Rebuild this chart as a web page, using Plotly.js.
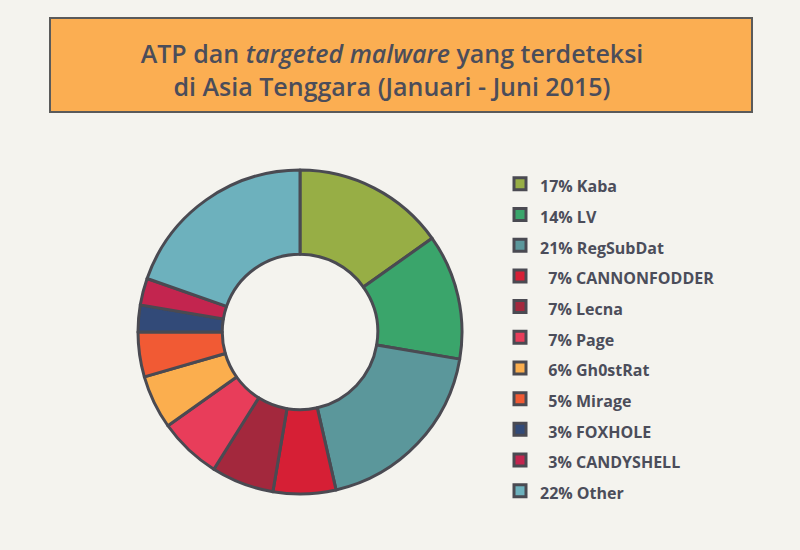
<!DOCTYPE html>
<html>
<head>
<meta charset="utf-8">
<script src="https://cdn.plot.ly/plotly-3.0.1.min.js"></script>
<style>html,body{margin:0;padding:0;background:#f4f3ee;}</style>
</head>
<body>
<div id="chart" style="width:800px;height:550px;"></div>
<script>
const names = ["Kaba","LV","RegSubDat","CANNONFODDER","Lecna","Page","Gh0stRat","Mirage","FOXHOLE","CANDYSHELL","Other"];
const values = [17,14,21,7,7,7,6,5,3,3,22];
const colors = ["#97ae45","#3aa56b","#5b979b","#d61f35","#a3283d","#e83d5a","#fbae4e","#f15a34","#324a78","#c3254f","#6db1bd"];

const legendLabels = names.map((n, i) => {
  const v = values[i];
  const pad = v < 10 ? "\u00A0\u00A0" : "";
  return '<span style="font-size:16px">' + pad + v + "% " + n + "</span>";
});

const trace = {
  type: "pie",
  labels: legendLabels,
  values: values,
  sort: false,
  direction: "clockwise",
  rotation: 0,
  hole: 0.48,
  textinfo: "none",
  hoverinfo: "skip",
  marker: {colors: colors, line: {color: "#4a4a52", width: 3}},
  domain: {x: [0.1725, 0.5775], y: [0.1018, 0.6909]}
};

const layout = {
  width: 800, height: 550,
  paper_bgcolor: "#f4f3ee",
  plot_bgcolor: "#f4f3ee",
  margin: {l: 0, r: 0, t: 0, b: 0},
  font: {family: "Open Sans, sans-serif", color: "#4b4d5a"},
  title: {
    text: "ATP dan <i>targeted malware</i> yang terdeteksi<br>di Asia Tenggara (Januari - Juni 2015)",
    x: 0.49, xanchor: "center", xref: "paper",
    y: 1 - 63/550, yanchor: "middle", yref: "paper",
    font: {family: "Open Sans, sans-serif", size: 25, color: "#4b4d5a", weight: 600}
  },
  shapes: [{
    type: "rect", xref: "paper", yref: "paper",
    x0: 50/800, x1: 752/800, y0: 1 - 112/550, y1: 1 - 18/550,
    fillcolor: "#fbae52", line: {color: "#5a5a5a", width: 2}, layer: "below"
  }],
  showlegend: true,
  legend: {
    x: 500/800, xanchor: "left",
    y: 1 - 163.5/550, yanchor: "top",
    font: {family: "Open Sans, sans-serif", size: 21.3, color: "#4b4d5a", weight: 700},
    bgcolor: "rgba(0,0,0,0)",
    traceorder: "normal"
  }
};

Plotly.newPlot("chart", [trace], layout, {displayModeBar: false, staticPlot: true});
</script>
</body>
</html>
